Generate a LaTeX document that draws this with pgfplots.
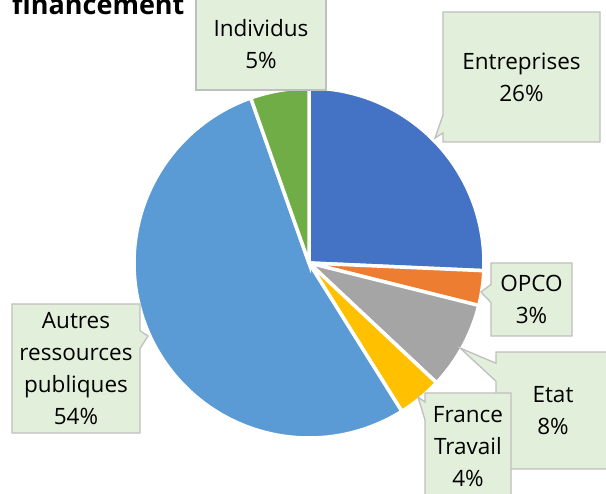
\documentclass[border=0pt]{standalone}
\usepackage{pgfplots}
\pgfplotsset{compat=1.18}
\usetikzlibrary{shapes.callouts}
\usepackage{fontspec}
\setmainfont{Open Sans}
\definecolor{cEnt}{HTML}{4472C4}
\definecolor{cOpco}{HTML}{ED7D31}
\definecolor{cEtat}{HTML}{A5A5A5}
\definecolor{cFT}{HTML}{FFC000}
\definecolor{cAutres}{HTML}{5B9BD5}
\definecolor{cInd}{HTML}{70AD47}
\definecolor{boxfill}{HTML}{E2EFDA}
\definecolor{boxdraw}{HTML}{BFBFBF}
\tikzset{
  lab/.style={rectangle, fill=boxfill, draw=boxdraw, line width=1.3pt,
    align=center, inner sep=0pt, text=black,
    font=\fontsize{22.5}{32}\selectfont},
  co/.style={rectangle callout, callout pointer width=18pt},
}
\begin{document}
\begin{tikzpicture}
\begin{axis}[
  scale only axis, width=606pt, height=494pt,
  xmin=0, xmax=606, ymin=0, ymax=494, y dir=reverse,
  hide axis, clip=false,
]
% values (percent): Entreprises 25.7, OPCO 3.2, Etat 8.1, France Travail 4.1, Autres 53.5, Individus 5.4
\addplot[fill=cEnt, draw=white, line width=3.5pt, domain={-90}:{-90+3.6*25.7}, samples=80]
  ({309+175*cos(x)},{263+175*sin(x)}) -- (axis cs:309,263) -- cycle;
\addplot[fill=cOpco, draw=white, line width=3.5pt, domain={-90+3.6*25.7}:{-90+3.6*28.9}, samples=20]
  ({309+175*cos(x)},{263+175*sin(x)}) -- (axis cs:309,263) -- cycle;
\addplot[fill=cEtat, draw=white, line width=3.5pt, domain={-90+3.6*28.9}:{-90+3.6*37.0}, samples=40]
  ({309+175*cos(x)},{263+175*sin(x)}) -- (axis cs:309,263) -- cycle;
\addplot[fill=cFT, draw=white, line width=3.5pt, domain={-90+3.6*37.0}:{-90+3.6*41.1}, samples=20]
  ({309+175*cos(x)},{263+175*sin(x)}) -- (axis cs:309,263) -- cycle;
\addplot[fill=cAutres, draw=white, line width=3.5pt, domain={-90+3.6*41.1}:{-90+3.6*94.6}, samples=150]
  ({309+175*cos(x)},{263+175*sin(x)}) -- (axis cs:309,263) -- cycle;
\addplot[fill=cInd, draw=white, line width=3.5pt, domain={-90+3.6*94.6}:{270}, samples=20]
  ({309+175*cos(x)},{263+175*sin(x)}) -- (axis cs:309,263) -- cycle;

\node[lab, minimum width=130pt, minimum height=92pt] at (axis cs:261,44) {Individus\\5\%};
\node[lab, co, minimum width=157pt, minimum height=130pt,
  callout absolute pointer={(axis cs:435,138)}] at (axis cs:521.5,77) {Entreprises\\26\%};
\node[lab, co, minimum width=81pt, minimum height=73pt,
  callout absolute pointer={(axis cs:481,292)}] at (axis cs:531.5,299.5) {OPCO\\3\%};
\node[lab, co, minimum width=114pt, minimum height=117pt,
  callout absolute pointer={(axis cs:460,348)}] at (axis cs:553,410.5) {Etat\\8\%};
\node[lab, co, minimum width=86pt, minimum height=108pt,
  callout absolute pointer={(axis cs:418,397)}] at (axis cs:468,447) {France\\Travail\\4\%};
\node[lab, co, minimum width=128pt, minimum height=129pt,
  callout absolute pointer={(axis cs:148,336)}] at (axis cs:76,368.5) {Autres\\ressources\\publiques\\54\%};
\node[anchor=base west, font=\fontsize{27}{32}\selectfont\bfseries, inner sep=0pt]
  at (axis cs:12,15) {financement};
\end{axis}
\pgfresetboundingbox
\useasboundingbox (0,0) rectangle (606pt,494pt);
\end{tikzpicture}
\end{document}
